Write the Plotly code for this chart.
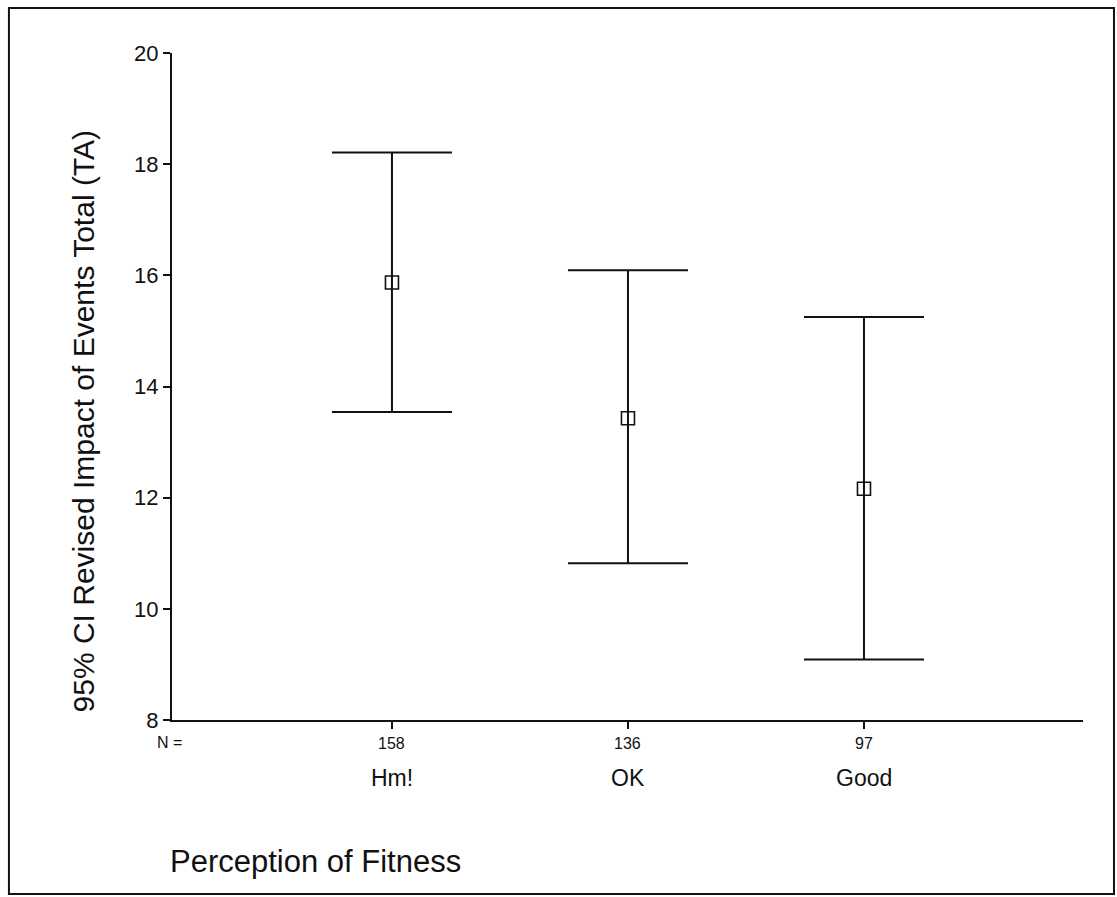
import plotly.graph_objects as go

categories = ["Hm!", "OK", "Good"]
n_values = ["158", "136", "97"]
means = [15.87, 13.43, 12.16]
upper = [18.21, 16.09, 15.25]
lower = [13.54, 10.82, 9.09]
y_ticks = [8, 10, 12, 14, 16, 18, 20]

xpos = list(range(len(categories)))
plus = [u - m for u, m in zip(upper, means)]
minus = [m - l for m, l in zip(means, lower)]

FONT = "Liberation Sans, Arial, sans-serif"
INK = "#111111"

fig = go.Figure()
fig.add_trace(go.Scatter(
    x=xpos, y=means, mode="markers",
    marker=dict(symbol="square-open", size=13, color=INK, line=dict(width=1.6, color=INK)),
    error_y=dict(type="data", symmetric=False, array=plus, arrayminus=minus,
                 width=60, thickness=2, color=INK),
    showlegend=False, hoverinfo="skip",
))

ann = []
for x, n, c in zip(xpos, n_values, categories):
    ann.append(dict(x=x, y=0, xref="x", yref="paper", text=n, showarrow=False,
                    yanchor="middle", xanchor="center", yshift=-23,
                    font=dict(family=FONT, size=16, color=INK)))
    ann.append(dict(x=x, y=0, xref="x", yref="paper", text=c, showarrow=False,
                    yanchor="middle", xanchor="center", yshift=-58,
                    font=dict(family=FONT, size=23, color=INK)))
ann.append(dict(x=-0.003, y=0, xref="paper", yref="paper", text="N =", showarrow=False,
                yanchor="middle", xanchor="center", yshift=-22,
                font=dict(family=FONT, size=16, color=INK)))
ann.append(dict(x=-0.004, y=0, xref="paper", yref="paper", text="Perception of Fitness",
                showarrow=False, yanchor="middle", xanchor="left", yshift=-141,
                font=dict(family=FONT, size=31, color=INK)))
ann.append(dict(x=-0.097, y=0.447, xref="paper", yref="paper",
                text="95% CI Revised Impact of Events Total (TA)", textangle=-90,
                showarrow=False, yanchor="middle", xanchor="center",
                font=dict(family=FONT, size=30, color=INK)))

fig.update_layout(
    width=1117, height=897,
    margin=dict(l=172, r=34, t=53, b=177),
    paper_bgcolor="white", plot_bgcolor="white",
    xaxis=dict(range=[-0.932, 2.928], tickvals=xpos, ticktext=["", "", ""],
               showgrid=False, zeroline=False, showline=True, linecolor=INK, linewidth=2,
               ticks="outside", ticklen=7, tickwidth=1.5, tickcolor=INK),
    yaxis=dict(range=[8, 20], tickvals=y_ticks, showgrid=False, zeroline=False,
               showline=True, linecolor=INK, linewidth=2,
               ticks="outside", ticklen=7, tickwidth=1.5, tickcolor=INK,
               tickfont=dict(family=FONT, size=22, color=INK)),
    annotations=ann,
    shapes=[dict(type="rect", xref="paper", yref="paper",
                 x0=-0.179, x1=1.034, y0=-0.261, y1=1.0675,
                 line=dict(color=INK, width=2), fillcolor="rgba(0,0,0,0)")],
)

fig.write_html("out.html", config={"displayModeBar": False})

# remove the default 8px page margin so the figure sits at the window origin
with open("out.html", "r", encoding="utf-8") as f:
    html = f.read()
html = html.replace("<head>", "<head><style>html,body{margin:0;padding:0;}</style>", 1)
with open("out.html", "w", encoding="utf-8") as f:
    f.write(html)
